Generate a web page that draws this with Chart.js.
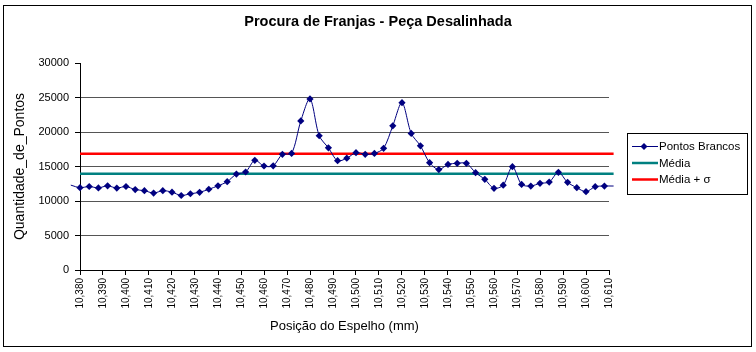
<!DOCTYPE html>
<html><head><meta charset="utf-8">
<script src="https://cdn.jsdelivr.net/npm/chart.js@4.4.1/dist/chart.umd.min.js"></script>
<style>html,body{margin:0;padding:0;background:#fff}#wrap{width:756px;height:352px;position:relative}</style>
</head><body><div id="wrap"><canvas id="c" width="756" height="352"></canvas></div>
<script>
// Mirror positions (mm); first and last entries only show as short line stubs at the edges
const positions = [10.376,
  10.380,10.384,10.388,10.392,10.396,10.400,10.404,10.408,10.412,10.416,
  10.420,10.424,10.428,10.432,10.436,10.440,10.444,10.448,10.452,10.456,
  10.460,10.464,10.468,10.472,10.476,10.480,10.484,10.488,10.492,10.496,
  10.500,10.504,10.508,10.512,10.516,10.520,10.524,10.528,10.532,10.536,
  10.540,10.544,10.548,10.552,10.556,10.560,10.564,10.568,10.572,10.576,
  10.580,10.584,10.588,10.592,10.596,10.600,10.604,10.608,
  10.612];
const pontosBrancos = [12300,
  11930,12100,11900,12200,11870,12100,11650,11500,11150,11500,
  11280,10800,11050,11260,11700,12200,12800,13900,14200,15900,
  15070,15100,16770,16900,21600,24800,19460,17700,15840,16200,
  17000,16770,16900,17640,20900,24250,19800,18000,15550,14550,
  15300,15460,15460,14100,13140,11840,12300,14970,12400,12170,
  12560,12750,14160,12700,11930,11350,12070,12170,
  12170];
const media = 13950;
const mediaMaisSigma = 16850;
const xRange = [10.380, 10.610];
const yRange = [0, 30000];
const chartTitle = 'Procura de Franjas - Peça Desalinhada';
const seriesNames = ['Pontos Brancos', 'Média', 'Média + σ'];
const seriesColors = ['#000080', '#008080', '#FF0000'];

const FONT = "'Liberation Sans', Arial, sans-serif";
const lastIdx = positions.length - 1;

const frameAndLegend = {
  id: 'frameAndLegend',
  beforeDraw(chart) {
    const c = chart.ctx;
    c.save(); c.fillStyle = '#fff'; c.fillRect(0, 0, chart.width, chart.height); c.restore();
  },
  afterDraw(chart) {
    const c = chart.ctx;
    c.save();
    c.strokeStyle = '#000'; c.lineWidth = 1;
    c.strokeRect(3.5, 5.5, 748, 341);
    // title centred on the whole frame
    c.fillStyle = '#000';
    c.font = 'bold 14.5px ' + FONT;
    c.textAlign = 'center'; c.textBaseline = 'middle';
    c.fillText(chartTitle, 378, 22);
    // legend box
    const lx = 627.5, ly = 133.5, lw = 120, lh = 61;
    c.strokeRect(lx, ly, lw, lh);
    const rows = [146.5, 163, 179.5];
    c.font = '11.5px ' + FONT;
    c.textBaseline = 'middle';
    c.textAlign = 'left';
    rows.forEach((ry, i) => {
      c.strokeStyle = seriesColors[i];
      c.lineWidth = i === 0 ? 1 : 2.5;
      c.beginPath(); c.moveTo(632, ry); c.lineTo(658, ry); c.stroke();
      if (i === 0) {
        c.fillStyle = seriesColors[0];
        c.beginPath(); c.moveTo(644, ry - 3.5); c.lineTo(647.5, ry); c.lineTo(644, ry + 3.5); c.lineTo(640.5, ry); c.closePath(); c.fill();
      }
      c.fillStyle = '#000';
      c.fillText(seriesNames[i], 659, ry + 0.5);
    });
    c.restore();
  }
};

new Chart(document.getElementById('c'), {
  type: 'scatter',
  data: {
    datasets: [
      {
        label: seriesNames[0],
        data: positions.map((x, i) => ({ x, y: pontosBrancos[i] })),
        showLine: true,
        borderColor: seriesColors[0],
        backgroundColor: seriesColors[0],
        borderWidth: 1,
        pointStyle: 'rectRot',
        pointRadius: ctx => (ctx.dataIndex === 0 || ctx.dataIndex === lastIdx) ? 0 : 3.6,
        pointBorderWidth: 0,
        tension: 0.3,
        clip: false
      },
      {
        label: seriesNames[1],
        data: [{ x: xRange[0], y: media }, { x: 10.612, y: media }],
        showLine: true,
        borderColor: seriesColors[1],
        borderWidth: 2.5,
        pointRadius: 0,
        clip: false
      },
      {
        label: seriesNames[2],
        data: [{ x: xRange[0], y: mediaMaisSigma }, { x: 10.612, y: mediaMaisSigma }],
        showLine: true,
        borderColor: seriesColors[2],
        borderWidth: 2.5,
        pointRadius: 0,
        clip: false
      }
    ]
  },
  options: {
    responsive: false,
    animation: false,
    events: [],
    layout: { padding: { left: 5, right: 147, top: 63, bottom: 8 } },
    plugins: {
      legend: { display: false },
      tooltip: { enabled: false },
      title: { display: false }
    },
    scales: {
      x: {
        type: 'linear',
        min: xRange[0], max: xRange[1],
        afterFit: s => { s.height = 74; },
        ticks: {
          stepSize: 0.01, autoSkip: false, minRotation: 90, maxRotation: 90,
          color: '#000', font: { family: FONT, size: 10 }, padding: 3,
          callback: v => Number(v).toFixed(3).replace('.', ',')
        },
        grid: { drawOnChartArea: false, drawTicks: true, tickLength: 5, tickColor: '#000' },
        border: { color: '#000', width: 1 },
        title: {
          display: true, text: 'Posição do Espelho (mm)', color: '#000',
          font: { family: FONT, size: 13 }, padding: { top: 0, bottom: 10 }
        }
      },
      y: {
        min: yRange[0], max: yRange[1],
        afterFit: s => { s.width = 75; },
        ticks: {
          stepSize: 5000, color: '#000', font: { family: FONT, size: 11 }, padding: 6,
          callback: v => String(v)
        },
        grid: {
          color: c => (c.tick && (c.tick.value === 0 || c.tick.value === 30000)) ? 'rgba(0,0,0,0)' : '#555',
          tickColor: '#000', tickLength: 5, lineWidth: 1
        },
        border: { color: '#000', width: 1 },
        title: {
          display: true, text: 'Quantidade_de_Pontos', color: '#000',
          font: { family: FONT, size: 14 }, padding: { top: 7, bottom: 0 }
        }
      }
    }
  },
  plugins: [frameAndLegend]
});
</script>
</body></html>
